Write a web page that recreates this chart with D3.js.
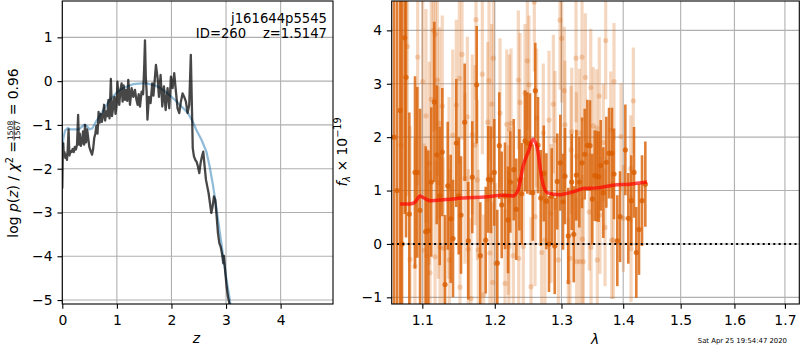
<!DOCTYPE html>
<html><head><meta charset="utf-8">
<script src="https://cdn.jsdelivr.net/npm/d3@7"></script>
<style>body{margin:0;background:#fff}svg{display:block}text{font-family:"DejaVu Sans",sans-serif}</style>
</head><body>
<script>
// ---------------- data: left panel (p(z)) ----------------
const zGrid = [0.000,0.008,0.018,0.028,0.040,0.055,0.070,0.085,0.100,0.115,0.130,0.150,0.170,0.190,0.210,0.230,0.250,0.270,0.290,0.305,0.320,0.340,0.360,0.380,0.400,0.416,0.435,0.455,0.475,0.495,0.520,0.545,0.565,0.585,0.605,0.625,0.645,0.665,0.685,0.705,0.725,0.745,0.765,0.785,0.805,0.825,0.845,0.865,0.890,0.910,0.930,0.955,0.975,0.995,1.010,1.030,1.044,1.065,1.087,1.105,1.125,1.148,1.170,1.190,1.209,1.240,1.270,1.301,1.331,1.355,1.380,1.400,1.423,1.453,1.480,1.500,1.515,1.530,1.545,1.560,1.587,1.618,1.648,1.670,1.716,1.746,1.771,1.801,1.832,1.862,1.893,1.929,1.960,1.990,2.021,2.051,2.082,2.112,2.143,2.173,2.204,2.234,2.265,2.295,2.326,2.355,2.370,2.380,2.390,2.412,2.437,2.461,2.485,2.510,2.534,2.559,2.583,2.608,2.632,2.657,2.681,2.705,2.730,2.754,2.779,2.803,2.828,2.852,2.877,2.901,2.925,2.950,2.962,2.987,3.011,3.035,3.060,3.080];
const logPz = [-2.45,-1.75,-1.42,-1.72,-1.62,-1.75,-1.68,-1.80,-1.55,-1.10,-1.70,-1.60,-1.62,-1.55,-1.62,-1.50,-1.56,-1.45,-0.77,-1.45,-1.20,-1.48,-1.40,-1.15,-1.45,-1.00,-1.40,-1.10,-1.30,-1.50,-1.60,-1.68,-1.55,-1.30,-1.20,-1.02,-1.20,-0.70,-0.95,-0.75,-0.93,-0.80,-0.54,-0.90,-0.69,-0.80,-0.43,-0.85,0.05,-0.80,-0.62,-0.36,-0.75,-0.55,-0.01,-0.40,-0.54,-0.20,-0.05,-0.47,-0.10,-0.43,-0.20,-0.45,0.03,-0.54,-0.16,-0.36,-0.20,-0.40,-0.54,-0.30,-0.58,-0.24,-0.30,0.30,0.93,0.10,-0.24,-0.88,-0.36,-0.50,-0.05,-0.33,0.37,0.07,-0.36,0.14,-0.58,-0.12,-0.66,-0.16,-0.62,0.10,-0.16,0.18,-0.24,-0.62,-0.73,-0.47,-0.28,-0.36,-0.47,-0.73,-0.54,0.60,-0.30,-0.88,-1.53,-1.72,-1.80,-1.84,-1.95,-2.10,-1.87,-1.72,-1.61,-1.95,-2.25,-2.41,-2.56,-2.78,-3.01,-2.86,-2.63,-2.71,-3.09,-3.47,-3.70,-3.78,-3.93,-4.16,-3.99,-4.38,-4.69,-4.92,-5.07,-5.30];
const zPrior = [0.00,0.02,0.05,0.10,0.15,0.20,0.30,0.35,0.40,0.45,0.50,0.55,0.62,0.70,0.78,0.86,0.95,1.05,1.15,1.30,1.45,1.55,1.70,1.80,1.90,2.00,2.10,2.20,2.30,2.40,2.45,2.55,2.64,2.70,2.76,2.82,2.88,2.94,3.00,3.07,3.10];
const logPrior = [-1.55,-1.30,-1.13,-1.07,-1.10,-1.10,-1.10,-1.05,-1.00,-1.03,-1.10,-1.08,-0.92,-0.77,-0.60,-0.45,-0.32,-0.20,-0.14,-0.07,-0.05,-0.05,-0.10,-0.16,-0.25,-0.36,-0.47,-0.60,-0.72,-0.95,-1.10,-1.34,-1.61,-1.95,-2.37,-2.86,-3.40,-3.93,-4.46,-5.00,-5.30];
const leftXTicks = [0,1,2,3,4];
const leftYTicks = [-5,-4,-3,-2,-1,0,1];

// ---------------- data: right panel (spectrum) ----------------
const wlDark = [1.0633,1.0671,1.0710,1.0735,1.0770,1.0787,1.0830,1.0904,1.0934,1.0970,1.1045,1.1080,1.1119,1.1160,1.1192,1.1232,1.1267,1.1304,1.1341,1.1381,1.1413,1.1458,1.1491,1.1523,1.1574,1.1624,1.1680,1.1742,1.1793,1.1870,1.1907,1.1946,1.1993,1.2036,1.2065,1.2100,1.2148,1.2192,1.2226,1.2276,1.2314,1.2359,1.2394,1.2443,1.2478,1.2518,1.2559,1.2598,1.2639,1.2680,1.2726,1.2766,1.2807,1.2849,1.2895,1.2935,1.2982,1.3024,1.3055,1.3107,1.3161,1.3193,1.3234,1.3282,1.3325,1.3368,1.3410,1.3453,1.3490,1.3529,1.3562,1.3594,1.3627,1.3670,1.3719,1.3764,1.3813,1.3846,1.3901,1.3947,1.4036,1.4086,1.4137,1.4183,1.4222,1.4268,1.4320,1.4377];
const fDark = [2.0,1.0,2.5,0.0,3.86,3.12,0.56,1.34,1.34,0.63,0.23,0.25,1.16,2.66,1.67,0.90,1.72,-0.76,1.09,0.47,0.10,1.89,0.90,0.54,2.28,0.06,1.25,2.98,-0.22,0.07,1.21,1.20,1.34,-0.36,1.84,0.73,0.90,0.45,1.16,1.39,0.65,1.20,0.94,1.93,1.89,1.87,0.96,2.87,1.85,0.86,1.32,0.80,0.00,0.89,-0.04,1.17,1.52,0.79,1.27,0.15,1.16,0.18,1.29,1.16,1.52,1.68,1.85,1.84,0.84,1.28,1.27,1.26,1.47,0.96,1.53,1.70,1.70,1.31,0.06,0.51,1.76,0.48,0.81,1.34,-0.16,0.27,0.81,1.12];
const eDark = [5.0,5.0,5.0,5.0,3.3,3.0,1.9,1.8,1.6,1.9,1.6,1.5,1.4,1.5,1.3,1.3,1.2,1.3,1.2,1.2,1.1,1.2,1.1,1.1,1.1,1.1,1.05,1.1,1.0,1.0,1.0,1.0,1.0,1.0,1.0,1.0,1.0,1.0,0.95,0.95,0.95,0.95,0.95,0.95,0.95,0.95,0.9,0.9,0.9,0.9,0.9,0.9,0.9,0.9,0.9,0.9,0.9,0.9,0.9,0.9,0.9,0.9,0.85,0.85,0.85,0.85,0.85,0.85,0.85,0.85,0.85,0.85,0.85,0.85,0.85,0.85,0.85,0.85,0.85,0.85,0.85,0.85,0.85,0.85,0.85,0.85,0.85,0.8];
const wlLight = [1.0722,1.0804,1.0839,1.0904,1.0939,1.1005,1.1026,1.1049,1.1058,1.1093,1.1102,1.1119,1.1146,1.1169,1.1173,1.1200,1.1213,1.1227,1.1236,1.1267,1.1281,1.1358,1.1362,1.1409,1.1458,1.1500,1.1509,1.1537,1.1578,1.1611,1.1624,1.1662,1.1680,1.1719,1.1732,1.1751,1.1765,1.1822,1.1840,1.1898,1.1917,1.1930,1.1956,1.1970,1.1979,1.2013,1.2075,1.2148,1.2173,1.2197,1.2205,1.2211,1.2236,1.2270,1.2344,1.2350,1.2369,1.2418,1.2443,1.2478,1.2503,1.2533,1.2583,1.2594,1.2619,1.2695,1.2719,1.2745,1.2807,1.2838,1.2874,1.2900,1.2951,1.2977,1.3004,1.3044,1.3055,1.3107,1.3134,1.3150,1.3161,1.3229,1.3235,1.3240,1.3282,1.3290,1.3325,1.3330,1.3346,1.3378,1.3442,1.3465,1.3470,1.3507,1.3562,1.3572,1.3604,1.3616,1.3670,1.3698,1.3709,1.3792,1.3808,1.3835,1.3846,1.3964,1.4003,1.4127,1.4132,1.4171];
const fLight = [1.85,3.70,-0.29,-0.42,3.50,3.04,-0.12,2.40,-0.22,1.51,-0.54,2.71,4.00,-0.24,3.93,3.07,1.15,2.26,-0.06,2.58,-0.08,1.05,-0.30,2.04,2.60,3.10,-0.81,3.55,1.23,2.38,-0.10,-1.02,2.05,1.85,4.20,1.20,-0.11,3.18,-0.95,2.28,3.06,-0.17,2.62,-0.72,3.48,-0.36,2.45,-0.74,2.24,0.45,-0.05,2.15,2.26,-0.22,3.07,-0.27,2.65,-0.05,2.82,3.43,2.98,-0.80,4.53,0.51,2.36,-0.16,2.08,0.07,2.32,0.57,2.62,1.94,-0.30,4.19,3.85,2.87,2.23,-0.71,-0.27,1.76,2.10,3.48,1.64,-0.33,2.08,-0.33,3.50,0.09,-0.33,3.12,0.60,2.93,-0.06,2.21,2.17,-0.30,2.77,0.54,1.90,0.31,3.81,2.13,0.07,0.07,3.04,2.01,0.48,1.41,-0.09,2.68];
const eLight = [3.0,2.8,2.5,2.4,2.4,2.2,2.0,2.0,2.0,1.9,1.9,1.9,1.9,1.8,1.8,1.8,1.8,1.8,1.7,1.7,1.7,1.7,1.7,1.6,1.6,1.6,1.6,1.6,1.6,1.5,1.5,1.5,1.5,1.5,1.5,1.5,1.5,1.5,1.5,1.5,1.5,1.5,1.5,1.5,1.5,1.5,1.4,1.4,1.4,1.4,1.4,1.4,1.4,1.4,1.3,1.3,1.3,1.3,1.3,1.3,1.3,1.3,1.3,1.3,1.3,1.3,1.3,1.3,1.3,1.3,1.3,1.3,1.3,1.3,1.2,1.2,1.2,1.2,1.2,1.2,1.2,1.2,1.2,1.2,1.2,1.2,1.2,1.2,1.2,1.2,1.1,1.1,1.1,1.1,1.1,1.1,1.1,1.1,1.1,1.1,1.1,1.1,1.1,1.1,1.1,1.0,1.0,1.0,1.0,1.0];
const wlModel = [1.0710,1.0839,1.0904,1.0970,1.1022,1.1102,1.1304,1.1551,1.1860,1.2119,1.2265,1.2339,1.2414,1.2503,1.2563,1.2624,1.2700,1.2776,1.2977,1.3024,1.3245,1.3341,1.3567,1.3830,1.4115,1.4406];
const fModel = [0.75,0.75,0.78,0.90,0.86,0.81,0.83,0.86,0.88,0.91,0.90,1.00,1.45,1.76,1.96,1.82,1.20,0.96,0.92,0.93,1.00,1.04,1.05,1.10,1.12,1.16];
const rightXTicks = [1.1,1.2,1.3,1.4,1.5,1.6,1.7];
const rightYTicks = [-1,0,1,2,3,4];

// ---------------- drawing ----------------
const FS = 13.9, TK = 4.86;
const minus = d => (d < 0 ? "\u2212" + Math.abs(d) : String(d));
const svg = d3.select("body").append("svg").attr("width", 800).attr("height", 350);

function panel(x, y, xt, yt, xfmt, id) {
  const [x0, x1] = x.range(), [y0, y1] = y.range();
  const g = svg.append("g");
  svg.append("defs").append("clipPath").attr("id", id)
    .append("rect").attr("x", x0).attr("y", y1).attr("width", x1 - x0).attr("height", y0 - y1);
  const grid = g.append("g").attr("stroke", "#b0b0b0").attr("stroke-width", 1.1);
  xt.forEach(t => grid.append("line").attr("x1", x(t)).attr("x2", x(t)).attr("y1", y0).attr("y2", y1));
  yt.forEach(t => grid.append("line").attr("y1", y(t)).attr("y2", y(t)).attr("x1", x0).attr("x2", x1));
  const ax = g.append("g").attr("transform", `translate(0,${y0})`)
    .call(d3.axisBottom(x).tickValues(xt).tickSize(TK).tickPadding(TK).tickFormat(xfmt));
  const ay = g.append("g").attr("transform", `translate(${x0},0)`)
    .call(d3.axisLeft(y).tickValues(yt).tickSize(TK).tickPadding(TK).tickFormat(minus));
  [ax, ay].forEach(a => {
    a.select(".domain").remove();
    a.selectAll("line").attr("stroke", "#000").attr("stroke-width", 1.1);
    a.selectAll("text").attr("font-size", FS).attr("font-family", "DejaVu Sans").attr("fill", "#000");
  });
  ax.selectAll("text").attr("dy", "0.8em");
  const plot = g.append("g").attr("clip-path", `url(#${id})`);
  const frame = () => svg.append("rect").attr("x", x0).attr("y", y1).attr("width", x1 - x0).attr("height", y0 - y1)
    .attr("fill", "none").attr("stroke", "#000").attr("stroke-width", 1.1);
  return { plot, frame };
}

// Left panel
const xL = d3.scaleLinear().domain([0, 4.96]).range([62.3, 333]);
const yL = d3.scaleLinear().domain([-5.09, 1.83]).range([304, 1]);
const L = panel(xL, yL, leftXTicks, leftYTicks, d3.format("d"), "clipL");
const lineL = d3.line().x(d => xL(d[0])).y(d => yL(d[1]));
L.plot.append("path").datum(d3.zip(zPrior, logPrior)).attr("d", lineL)
  .attr("fill", "none").attr("stroke", "#1f77b4").attr("stroke-opacity", 0.5).attr("stroke-width", 2.2);
L.plot.append("path").datum(d3.zip(zGrid, logPz)).attr("d", lineL)
  .attr("fill", "none").attr("stroke", "#000").attr("stroke-opacity", 0.72).attr("stroke-width", 2.3)
  .attr("stroke-linejoin", "round");
L.frame();
const ann = svg.append("text").attr("text-anchor", "end").attr("font-size", 13.2).style("white-space", "pre");
ann.append("tspan").attr("x", 327).attr("y", 23).text("j161644p5545");
ann.append("tspan").attr("x", 327).attr("y", 38.3).text("ID=260    z=1.5147");
svg.append("text").attr("x", 196.5).attr("y", 343).attr("text-anchor", "middle")
  .attr("font-size", FS).attr("font-style", "italic").text("z");

// left y label with stacked fraction
(function () {
  const g = svg.append("g").attr("transform", "translate(17.5,153) rotate(-90)");
  const inner = g.append("g");
  const tA = inner.append("text").attr("font-size", FS).attr("x", 0).attr("y", 0);
  tA.append("tspan").text("log ");
  tA.append("tspan").attr("font-style", "italic").text("p");
  tA.append("tspan").text("(");
  tA.append("tspan").attr("font-style", "italic").text("z");
  tA.append("tspan").text(") / ");
  tA.append("tspan").attr("font-style", "italic").text("\u03c7");
  tA.append("tspan").attr("font-size", 9.7).attr("dy", -5).text("2");
  tA.append("tspan").attr("dy", 5).text(" = ");
  const wA = tA.node().getComputedTextLength();
  const num = inner.append("text").attr("font-size", 7.6).attr("text-anchor", "middle").attr("y", -4.6).text("1508");
  const den = inner.append("text").attr("font-size", 7.6).attr("text-anchor", "middle").attr("y", 2.8).text("1567");
  const wF = Math.max(num.node().getComputedTextLength(), den.node().getComputedTextLength()) + 2;
  num.attr("x", wA + wF / 2); den.attr("x", wA + wF / 2);
  inner.append("line").attr("x1", wA + 0.5).attr("x2", wA + wF - 0.5).attr("y1", -3.4).attr("y2", -3.4)
    .attr("stroke", "#000").attr("stroke-width", 0.7);
  const tC = inner.append("text").attr("font-size", FS).attr("x", wA + wF).attr("y", 0).style("white-space", "pre").text(" = 0.96");
  const wC = tC.node().getComputedTextLength();
  inner.attr("transform", `translate(${-(wA + wF + wC) / 2},0)`);
})();

// Right panel
const xR = d3.scaleLog().domain([1.0603, 1.7296]).range([391.7, 799.3]);
const yR = d3.scaleLinear().domain([-1.125, 4.55]).range([304, 1]);
const R = panel(xR, yR, rightXTicks, rightYTicks, d3.format(".1f"), "clipR");
const ORANGE = "#d95f02";
function errSet(wl, f, e, op, w) {
  const gg = R.plot.append("g");
  const pts = d3.range(wl.length).map(i => ({ x: wl[i], y: f[i], e: e[i] }));
  gg.selectAll("line").data(pts).join("line")
    .attr("x1", d => xR(d.x)).attr("x2", d => xR(d.x))
    .attr("y1", d => yR(d.y - d.e)).attr("y2", d => yR(d.y + d.e))
    .attr("stroke", ORANGE).attr("stroke-opacity", op).attr("stroke-width", w);
  gg.selectAll("circle").data(pts).join("circle")
    .attr("cx", d => xR(d.x)).attr("cy", d => yR(d.y)).attr("r", 2.6)
    .attr("fill", ORANGE).attr("fill-opacity", op);
}
errSet(wlLight, fLight, eLight, 0.25, 3.2);
errSet(wlDark, fDark, eDark, 0.8, 2.6);
R.plot.append("line").attr("x1", 391.7).attr("x2", 799.3).attr("y1", yR(0)).attr("y2", yR(0))
  .attr("stroke", "#000").attr("stroke-width", 2).attr("stroke-dasharray", "2,3.3");
R.plot.append("path").datum(d3.zip(wlModel, fModel))
  .attr("d", d3.line().curve(d3.curveMonotoneX).x(d => xR(d[0])).y(d => yR(d[1])))
  .attr("fill", "none").attr("stroke", "#ff0000").attr("stroke-opacity", 0.7).attr("stroke-width", 3.5)
  .attr("stroke-linejoin", "round");
R.frame();
svg.append("text").attr("x", 595).attr("y", 344).attr("text-anchor", "middle")
  .attr("font-size", FS).attr("font-style", "italic").text("\u03bb");
(function () {
  const t = svg.append("text").attr("transform", "translate(347,152) rotate(-90)")
    .attr("text-anchor", "middle").attr("font-size", FS);
  t.append("tspan").attr("font-style", "italic").text("f");
  t.append("tspan").attr("font-style", "italic").attr("font-size", 9.7).attr("dy", 3).text("\u03bb");
  t.append("tspan").attr("dy", -3).text(" \u00d7 10");
  t.append("tspan").attr("font-size", 9.7).attr("dy", -6).text("\u221219");
})();
svg.append("text").attr("x", 787).attr("y", 342.5).attr("text-anchor", "end")
  .attr("font-size", 6.9).attr("fill", "#000").text("Sat Apr 25 19:54:47 2020");
</script>
</body></html>
